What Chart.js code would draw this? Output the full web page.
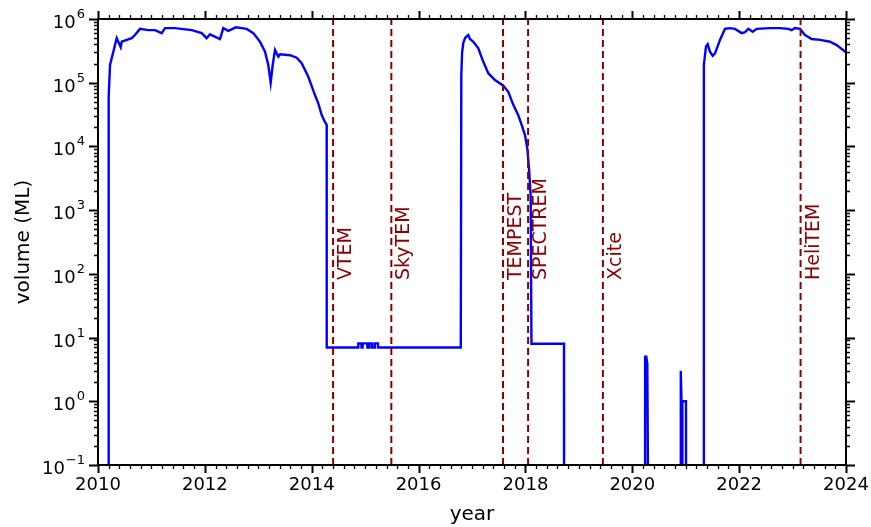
<!DOCTYPE html>
<html>
<head>
<meta charset="utf-8">
<script src="https://cdn.jsdelivr.net/npm/chart.js@4.4.1/dist/chart.umd.min.js"></script>
<style>
  html, body { margin: 0; padding: 0; background: #fff; }
  #wrap { width: 871px; height: 527px; position: relative; }
</style>
</head>
<body>
<div id="wrap"><canvas id="chart"></canvas></div>
<script>
// ── Data ──
// BELOW = volume under the bottom of the log axis (dry / no data)
const BELOW = 0.01;

const years = [
  2010.193, 2010.200, 2010.225, 2010.350, 2010.425, 2010.444, 2010.631, 2010.692, 2010.786, 2010.941,
  2011.067, 2011.192, 2011.254, 2011.441, 2011.754, 2011.941, 2012.034, 2012.096, 2012.283, 2012.345,
  2012.439, 2012.580, 2012.783, 2012.907, 2013.032, 2013.126, 2013.187, 2013.232, 2013.270, 2013.313,
  2013.375, 2013.406, 2013.593, 2013.719, 2013.812, 2013.936, 2014.061, 2014.123, 2014.187, 2014.249,
  2014.280, 2014.281, 2014.870, 2014.872, 2014.930, 2014.932, 2014.950, 2014.952, 2015.040, 2015.042,
  2015.080, 2015.082, 2015.130, 2015.132, 2015.180, 2015.182, 2015.240, 2015.242, 2016.790, 2016.800,
  2016.815, 2016.837, 2016.869, 2016.912, 2016.931, 2016.962, 2017.024, 2017.118, 2017.211, 2017.305,
  2017.430, 2017.586, 2017.679, 2017.773, 2017.866, 2017.930, 2017.992, 2018.035, 2018.067, 2018.098,
  2018.113, 2018.722, 2018.723, 2020.238, 2020.240, 2020.262, 2020.281, 2020.300, 2020.906, 2020.908,
  2020.921, 2020.936, 2020.937, 2020.938, 2021.005, 2021.006, 2021.329, 2021.340, 2021.379,
  2021.411, 2021.454, 2021.505, 2021.548, 2021.642, 2021.735, 2021.829, 2021.922, 2022.048, 2022.109,
  2022.171, 2022.254, 2022.328, 2022.577, 2022.765, 2022.920, 2022.984, 2023.046, 2023.140, 2023.233,
  2023.358, 2023.514, 2023.700, 2023.825, 2024.000
];
const volumes = [
  BELOW, 60000, 190000, 500000, 360000, 440000, 500000, 560000, 700000, 670000,
  670000, 600000, 720000, 720000, 670000, 600000, 500000, 575000, 485000, 720000,
  650000, 740000, 700000, 600000, 440000, 307000, 190000, 100000, 190000, 326000,
  256000, 280000, 270000, 247000, 202000, 124000, 64000, 47500, 31000, 24000,
  22000, 7, 7, 8.1, 8.1, 7, 7, 8.1, 8.1, 7,
  7, 8.1, 8.1, 7, 7, 8.1, 8.1, 7, 7, 132000,
  300000, 420000, 500000, 547000, 560000, 485000, 440000, 347000, 213000, 141000,
  110000, 90000, 72000, 45000, 31000, 21700, 15000, 9300, 4500, 1700,
  8, 8, BELOW, BELOW, 5.0, 5.0, 3.9, BELOW, BELOW, 3.0,
  1.0, 1.0, BELOW, 1.0, 1.0, BELOW, BELOW, 190000, 367000,
  401000, 307000, 265000, 288000, 470000, 700000, 720000, 700000, 600000, 620000,
  700000, 630000, 700000, 720000, 720000, 700000, 670000, 720000, 700000, 560000,
  485000, 470000, 440000, 390000, 300000
];

const surveyNames = ['VTEM', 'SkyTEM', 'TEMPEST', 'SPECTREM', 'Xcite', 'HeliTEM'];
const surveyYears = [2014.40, 2015.49, 2017.58, 2018.05, 2019.45, 2023.15];

const xTickYears = [2010, 2012, 2014, 2016, 2018, 2020, 2022, 2024];
const yExponents = [-1, 0, 1, 2, 3, 4, 5, 6];

const FONT = 'DejaVu Sans';
const RED = '#8b0000';

// ── Frame, outward ticks, 10^n labels, survey names ──
const decorations = {
  id: 'decorations',
  afterDraw(chart) {
    const { ctx, chartArea: a, scales: { x, y } } = chart;
    ctx.save();
    ctx.strokeStyle = '#000';

    // x ticks, top and bottom (minor every 0.2 yr)
    for (let i = 0; i <= 70; i++) {
      const yr = 2010 + i * 0.2;
      const major = i % 10 === 0;
      const len = major ? 8 : 4;
      const px = Math.round(x.getPixelForValue(yr)) + 0.5;
      ctx.lineWidth = major ? 2 : 1.3;
      ctx.beginPath();
      ctx.moveTo(px, a.bottom); ctx.lineTo(px, a.bottom + len);
      ctx.moveTo(px, a.top); ctx.lineTo(px, a.top - len);
      ctx.stroke();
    }
    // y ticks, left and right
    yExponents.forEach(e => {
      for (let k = 1; k <= 9; k++) {
        if (e === 6 && k > 1) break;
        const major = k === 1;
        const len = major ? 9 : 4;
        const py = Math.round(y.getPixelForValue(k * Math.pow(10, e))) + 0.5;
        ctx.lineWidth = major ? 2 : 1.3;
        ctx.beginPath();
        ctx.moveTo(a.left - len, py); ctx.lineTo(a.left, py);
        ctx.moveTo(a.right, py); ctx.lineTo(a.right + len, py);
        ctx.stroke();
      }
    });

    // frame
    ctx.lineWidth = 2;
    ctx.strokeRect(a.left, a.top, a.right - a.left, a.bottom - a.top);

    // y tick labels: 10 with superscript exponent
    ctx.fillStyle = '#000';
    ctx.textBaseline = 'alphabetic';
    yExponents.forEach(e => {
      const py = y.getPixelForValue(Math.pow(10, e));
      const exp = e < 0 ? '\u2212' + Math.abs(e) : String(e);
      ctx.font = `13px "${FONT}"`;
      const ew = ctx.measureText(exp).width;
      const right = a.left - 13;
      ctx.textAlign = 'left';
      ctx.fillText(exp, right - ew, py - 1);
      ctx.font = `18px "${FONT}"`;
      ctx.textAlign = 'right';
      ctx.fillText('10', right - ew - 1, py + 9);
    });

    // survey names, rotated, right of each dashed line
    ctx.fillStyle = RED;
    ctx.font = `19px "${FONT}"`;
    ctx.textAlign = 'left';
    ctx.textBaseline = 'alphabetic';
    surveyNames.forEach((name, i) => {
      ctx.save();
      ctx.translate(x.getPixelForValue(surveyYears[i]) + 18, y.getPixelForValue(80));
      ctx.rotate(-Math.PI / 2);
      ctx.fillText(name, 0, 0);
      ctx.restore();
    });
    ctx.restore();
  }
};

const surveyDatasets = surveyYears.map(yr => ({
  data: [{ x: yr, y: 0.1 }, { x: yr, y: 1e6 }],
  borderColor: RED,
  borderWidth: 2,
  borderDash: [7, 4],
  pointRadius: 0,
  order: 1,
}));

new Chart(document.getElementById('chart'), {
  type: 'line',
  data: {
    datasets: [
      {
        data: years.map((yr, i) => ({ x: yr, y: volumes[i] })),
        borderColor: '#0000ff',
        borderWidth: 2.4,
        pointRadius: 0,
        tension: 0,
        order: 2,
      },
      ...surveyDatasets,
    ]
  },
  options: {
    responsive: true,
    maintainAspectRatio: false,
    animation: false,
    devicePixelRatio: 1,
    layout: { padding: { top: 19, right: 25, left: 0, bottom: 0 } },
    plugins: { legend: { display: false }, tooltip: { enabled: false } },
    scales: {
      x: {
        type: 'linear',
        min: 2010, max: 2024,
        afterBuildTicks: s => { s.ticks = xTickYears.map(v => ({ value: v })); },
        afterFit: s => { s.height = 62; s.paddingLeft = 0; s.paddingRight = 0; },
        ticks: { color: '#000', font: { family: FONT, size: 18 }, padding: 10, maxRotation: 0,
                 callback: v => String(v) },
        grid: { display: false, drawTicks: false },
        border: { display: false },
        title: { display: true, text: 'year', color: '#000', font: { family: FONT, size: 20 },
                 padding: { top: 0, bottom: 0 } },
      },
      y: {
        type: 'logarithmic',
        min: 0.1, max: 1e6,
        afterFit: s => { s.width = 98; s.paddingTop = 0; s.paddingBottom = 0; },
        ticks: { display: false },
        grid: { display: false, drawTicks: false },
        border: { display: false },
        title: { display: true, text: 'volume (ML)', color: '#000', font: { family: FONT, size: 20 },
                 padding: { top: 12, bottom: 0 } },
      }
    }
  },
  plugins: [decorations]
});
</script>
</body>
</html>
